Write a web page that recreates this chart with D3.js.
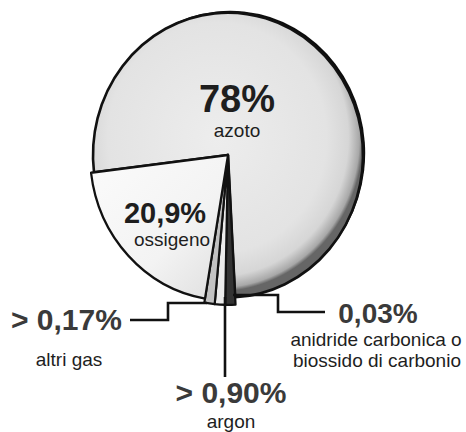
<!DOCTYPE html>
<html><head><meta charset="utf-8">
<script src="https://cdn.jsdelivr.net/npm/d3@7"></script>
<style>body{margin:0;background:#fff}svg{display:block}text{font-family:"Liberation Sans",Arial,sans-serif}</style>
</head><body>
<script>
const categories = ["azoto", "anidride carbonica o biossido di carbonio", "argon", "altri gas", "ossigeno"];
const values = [78, 0.03, 0.9, 0.17, 20.9];
const valueLabels = ["78%", "0,03%", "> 0,90%", "> 0,17%", "20,9%"];
const fills = ["url(#gN)", "#333", "#ebebeb", "#c2c2c2", "url(#gO)"];

const W = 466, H = 432;
const cx = 228, cy = 155, R = 135, sy = 1.055;
const svg = d3.select("body").append("svg").attr("width", W).attr("height", H);
const defs = svg.append("defs");
const gN = defs.append("radialGradient").attr("id", "gN").attr("cx", "46%").attr("cy", "44%").attr("r", "54%");
[[0, "#ededed"], [0.75, "#e3e3e3"], [0.9, "#d6d6d6"], [0.975, "#a8a8a8"], [1, "#666"]].forEach(s => gN.append("stop").attr("offset", s[0]).attr("stop-color", s[1]));
const gO = defs.append("linearGradient").attr("id", "gO").attr("x1", 0).attr("y1", 0).attr("x2", 1).attr("y2", 1);
[[0, "#fbfbfb"], [0.6, "#f3f3f3"], [1, "#dedede"]].forEach(s => gO.append("stop").attr("offset", s[0]).attr("stop-color", s[1]));
defs.append("filter").attr("id", "blur").append("feGaussianBlur").attr("stdDeviation", 0.6);

const data = categories.map((c, i) => ({ cat: c, value: values[i], i }));
const deg = Math.PI / 180;
const pie = d3.pie().sort(null).value(d => Math.max(d.value, 1.2))
  .startAngle(-97 * deg).endAngle(263 * deg);
const arcs = pie(data);
const radiusOf = i => i === 0 ? R : i === 4 ? R + 3 : R + 7;
const arcGen = d3.arc().innerRadius(0).outerRadius(d => radiusOf(d.index));

const g = svg.append("g").attr("transform", `translate(${cx},${cy}) scale(1,${sy})`);
// rim shadow on the upper right
g.append("path").attr("d", arcGen(arcs[0])).attr("fill", "#111")
  .attr("transform", "translate(2.2,-1.8)").attr("filter", "url(#blur)");
g.selectAll("path.slice").data(arcs).join("path").attr("class", "slice")
  .attr("d", arcGen)
  .attr("fill", (d, i) => fills[i])
  .attr("stroke", "#111").attr("stroke-width", (d, i) => i === 0 ? 2.6 : 2.2)
  .attr("stroke-linejoin", "round");

// leader lines
const leaders = [
  [[130, 320], [168, 320], [168, 303], [207, 303]],
  [[225, 297], [225, 377]],
  [[233, 295], [278, 295], [278, 312], [325, 312]]
];
svg.selectAll("path.leader").data(leaders).join("path").attr("class", "leader")
  .attr("d", d3.line()).attr("fill", "none").attr("stroke", "#111").attr("stroke-width", 2.6);

// labels
const labels = [
  { t: valueLabels[0], x: 237, y: 112, s: 38, w: "bold", c: "#1e1e1e", a: "middle" },
  { t: categories[0], x: 237, y: 137, s: 19, w: "normal", c: "#1e1e1e", a: "middle" },
  { t: valueLabels[4], x: 165, y: 223, s: 29, w: "bold", c: "#1e1e1e", a: "middle" },
  { t: categories[4], x: 172, y: 246, s: 19, w: "normal", c: "#1e1e1e", a: "middle" },
  { t: valueLabels[3], x: 11, y: 330, s: 30, w: "bold", c: "#3a3a3a", a: "start" },
  { t: categories[3], x: 69, y: 366, s: 19, w: "normal", c: "#1e1e1e", a: "middle" },
  { t: valueLabels[2], x: 231, y: 403, s: 30, w: "bold", c: "#3a3a3a", a: "middle" },
  { t: categories[2], x: 231, y: 428, s: 19, w: "normal", c: "#1e1e1e", a: "middle" },
  { t: valueLabels[1], x: 378, y: 323, s: 28, w: "bold", c: "#3a3a3a", a: "middle" },
  { t: "anidride carbonica o", x: 376, y: 346, s: 19, w: "normal", c: "#1e1e1e", a: "middle" },
  { t: "biossido di carbonio", x: 377, y: 367, s: 19, w: "normal", c: "#1e1e1e", a: "middle" }
];
svg.selectAll("text.lbl").data(labels).join("text").attr("class", "lbl")
  .attr("x", d => d.x).attr("y", d => d.y).attr("font-size", d => d.s)
  .attr("font-weight", d => d.w).attr("fill", d => d.c).attr("text-anchor", d => d.a)
  .text(d => d.t);
</script>
</body></html>
